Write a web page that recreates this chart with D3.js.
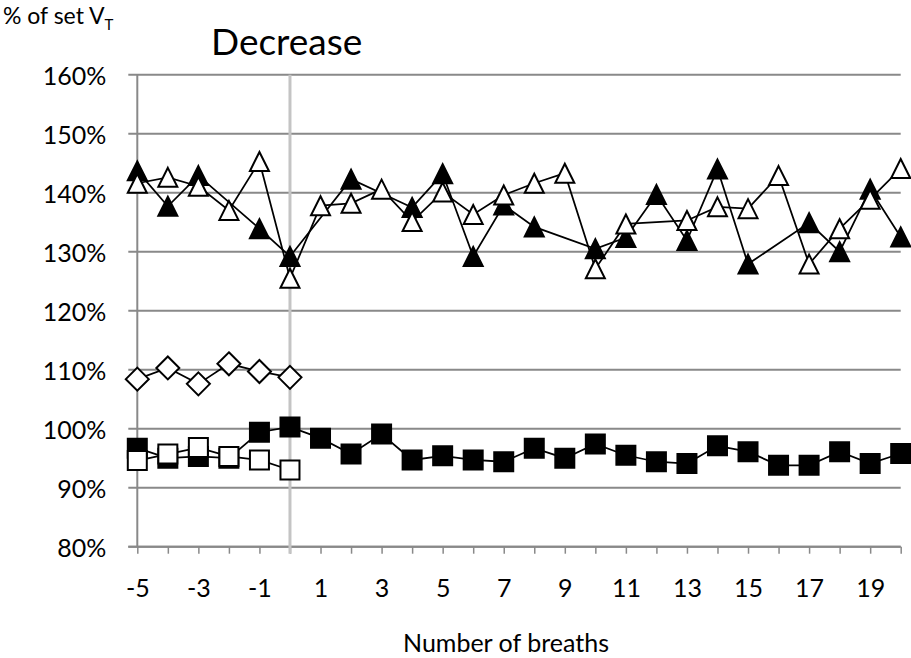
<!DOCTYPE html>
<html><head><meta charset="utf-8">
<script src="https://cdn.jsdelivr.net/npm/d3@7"></script>
<style>
html,body{margin:0;padding:0;background:#fff;}
svg{display:block;}
text{font-family:Lato,"Open Sans",sans-serif;fill:#000;}
</style></head>
<body>
<svg id="chart" width="911" height="658"></svg>
<script>
const breaths = [-5,-4,-3,-2,-1,0,1,2,3,4,5,6,7,8,9,10,11,12,13,14,15,16,17,18,19,20];
const blackTriangle = [143.7,137.7,142.9,null,133.9,129.2,null,142.3,null,137.5,143.2,129.2,137.9,134.2,null,130.5,132.4,139.7,131.9,144.0,127.9,null,134.9,130.0,140.6,132.5];
const whiteTriangle = [141.6,142.6,141.1,137.0,145.3,125.5,137.8,138.2,140.6,135.1,140.1,136.3,139.6,141.6,143.3,127.1,134.7,null,135.3,137.6,137.3,142.9,127.9,133.9,138.9,144.1];
const whiteDiamond = [108.4,110.3,107.6,111.0,109.7,108.7];
const blackSquare = [96.7,95.0,95.3,95.0,99.4,100.3,98.4,95.7,99.1,94.7,95.4,94.7,94.4,96.7,95.0,97.4,95.5,94.4,94.1,97.1,96.1,93.8,93.8,96.1,94.1,95.8];
const whiteSquare = [94.6,95.7,96.8,95.3,94.7,93.0];
const yTicks = [80,90,100,110,120,130,140,150,160];
const xLabels = [-5,-3,-1,1,3,5,7,9,11,13,15,17,19];

const svg = d3.select("#chart");
const x = d3.scaleLinear().domain([-5,20]).range([137.3,900.7]);
const y = d3.scaleLinear().domain([80,160]).range([546.7,74.7]);
const FONT = "Lato,'Open Sans',sans-serif";

// gridlines
svg.append("g").selectAll("line").data(yTicks).join("line")
  .attr("x1", x(-5)-9).attr("x2", x(20)).attr("y1", d=>y(d)).attr("y2", d=>y(d))
  .attr("stroke","#898989").attr("stroke-width",2);

// y axis line
svg.append("line").attr("x1",x(-5)).attr("x2",x(-5)).attr("y1",y(160)).attr("y2",y(80))
  .attr("stroke","#898989").attr("stroke-width",2);

// y labels
const yAxis = d3.axisLeft(y).tickValues(yTicks).tickFormat(d=>d+"%").tickSize(0).tickPadding(0);
const gy = svg.append("g").attr("transform",`translate(${x(-5)-31},0)`).call(yAxis);
gy.select(".domain").remove();
gy.selectAll("text").attr("font-size",25).attr("font-family",FONT).attr("fill","#000").attr("dy","0.41em");

// x axis
const xAxis = d3.axisBottom(x).tickValues(breaths).tickSize(7).tickFormat(d=>xLabels.includes(d)?d:"").tickPadding(25.5);
const gx = svg.append("g").attr("transform",`translate(0,${y(80)})`).call(xAxis);
gx.select(".domain").attr("stroke","#898989").attr("stroke-width",2).attr("d",`M${x(-5)-9},0H${x(20)}`);
gx.selectAll(".tick line").attr("stroke","#898989").attr("stroke-width",1.5);
gx.selectAll("text").attr("font-size",25).attr("font-family",FONT).attr("fill","#000");

// vertical marker line at 0
svg.append("line").attr("x1",x(0)).attr("x2",x(0)).attr("y1",y(160)).attr("y2",y(80)+7)
  .attr("stroke","#c4c4c4").attr("stroke-width",3);

// shapes
const shapes = {
  triangle: "M0,-9.5L9.5,9.5L-9.5,9.5Z",
  square: "M-9.5,-9.5H9.5V9.5H-9.5Z",
  diamond: "M0,-11.5L11.5,0L0,11.5L-11.5,0Z"
};

function drawSeries(values, shape, fill){
  const pts = values.map((v,i)=>({x:breaths[i], v:v})).filter(d=>d.v!==null && d.v!==undefined);
  const line = d3.line().x(d=>x(d.x)).y(d=>y(d.v));
  const g = svg.append("g");
  g.append("path").attr("d", line(pts)).attr("fill","none").attr("stroke","#000").attr("stroke-width",1.75);
  g.selectAll("path.m").data(pts).join("path").attr("class","m")
    .attr("d", shapes[shape])
    .attr("transform", d=>`translate(${x(d.x)},${y(d.v)})`)
    .attr("fill", fill).attr("stroke","#000").attr("stroke-width",2).attr("stroke-linejoin","miter");
}
drawSeries(blackSquare,"square","#000");
drawSeries(whiteSquare,"square","#fff");
drawSeries(whiteDiamond,"diamond","#fff");
drawSeries(blackTriangle,"triangle","#000");
drawSeries(whiteTriangle,"triangle","#fff");

// titles
const yt = svg.append("text").attr("x",3).attr("y",24).attr("font-size",23);
yt.append("tspan").text("% of set V");
yt.append("tspan").attr("font-size",15).attr("dy",6).text("T");
svg.append("text").attr("x",211).attr("y",55).attr("font-size",37).text("Decrease");
svg.append("text").attr("x",506).attr("y",652).attr("text-anchor","middle").attr("font-size",25).text("Number of breaths");
</script>
</body></html>
